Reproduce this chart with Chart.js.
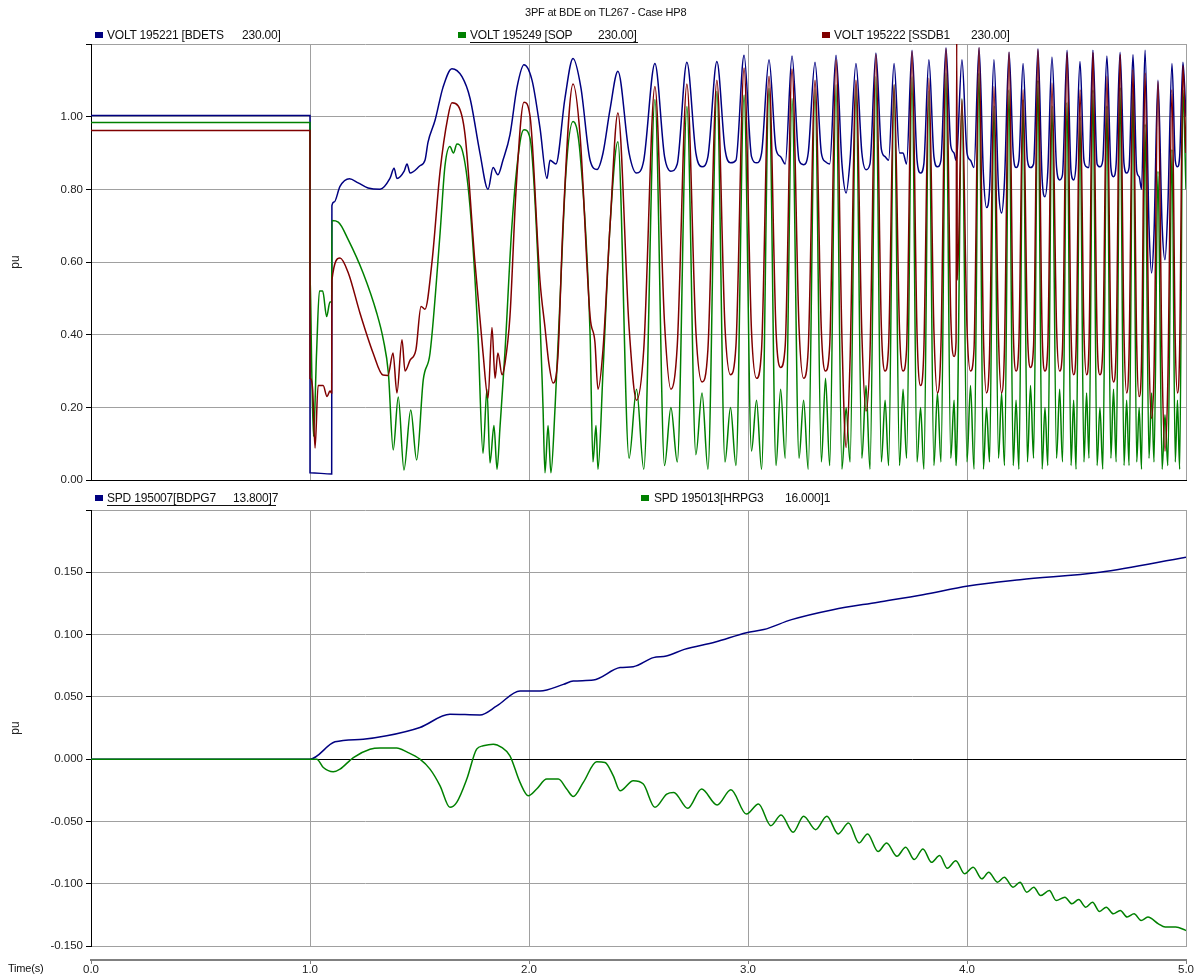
<!DOCTYPE html>
<html>
<head>
<meta charset="utf-8">
<title>3PF at BDE on TL267 - Case HP8</title>
<script src="https://cdn.jsdelivr.net/npm/chart.js@4.4.1/dist/chart.umd.min.js"></script>
<style>
  body { margin: 0; background: #fff; font-family: "Liberation Sans", Arial, sans-serif; }
  #wrap { position: relative; width: 1200px; height: 976px; overflow: hidden; }
  canvas { position: absolute; left: 0; }
  .txt { position: absolute; font-size: 12px; line-height: 14px; color: #111; white-space: pre; letter-spacing: -0.2px; }
  .key { position: absolute; width: 8px; height: 6px; }
  .uline { position: absolute; height: 1px; background: #111; }
</style>
</head>
<body>
<div id="wrap">
  <canvas id="voltChart" width="1200" height="490" style="top:0"></canvas>
  <canvas id="spdChart" width="1200" height="494" style="top:482px"></canvas>

  <div class="txt" style="left:525px;top:5px;font-size:11px">3PF at BDE on TL267 - Case HP8</div>

  <div class="key" style="left:95px;top:32px;background:#000080"></div>
  <div class="txt" style="left:107px;top:28px">VOLT 195221 [BDETS</div>
  <div class="txt" style="left:242px;top:28px">230.00]</div>

  <div class="key" style="left:458px;top:32px;background:#008000"></div>
  <div class="txt" style="left:470px;top:28px">VOLT 195249 [SOP</div>
  <div class="txt" style="left:598px;top:28px">230.00]</div>
  <div class="uline" style="left:470px;top:42px;width:168px"></div>

  <div class="key" style="left:822px;top:32px;background:#800000"></div>
  <div class="txt" style="left:834px;top:28px">VOLT 195222 [SSDB1</div>
  <div class="txt" style="left:971px;top:28px">230.00]</div>

  <div class="key" style="left:95px;top:495px;background:#000080"></div>
  <div class="txt" style="left:107px;top:491px">SPD 195007[BDPG7</div>
  <div class="txt" style="left:233px;top:491px">13.800]7</div>
  <div class="uline" style="left:107px;top:505px;width:169px"></div>

  <div class="key" style="left:641px;top:495px;background:#008000"></div>
  <div class="txt" style="left:654px;top:491px">SPD 195013[HRPG3</div>
  <div class="txt" style="left:785px;top:491px">16.000]1</div>

  <div class="txt" style="left:8px;top:961px;font-size:11px">Time(s)</div>
</div>

<script>
// top panel: bus voltages (pu), time in seconds
const bdetsEarlyT = [0, 1.0, 1.0, 1.099, 1.1, 1.11, 1.137, 1.18, 1.22, 1.265,
  1.32, 1.365, 1.384, 1.397, 1.43, 1.443, 1.457, 1.502, 1.525, 1.539,
  1.571, 1.607, 1.648, 1.694, 1.731, 1.776, 1.813, 1.836, 1.858, 1.881,
  1.913, 1.945, 1.977, 2.014, 2.05, 2.082, 2.096, 2.123, 2.164, 2.201,
  2.237, 2.279, 2.311, 2.338, 2.37];
const bdetsEarlyV = [1.003, 1.003, 0.02, 0.017, 0.755, 0.765, 0.808, 0.829, 0.818, 0.804,
  0.80, 0.83, 0.858, 0.83, 0.85, 0.87, 0.845, 0.865, 0.88, 0.93,
  0.99, 1.08, 1.132, 1.11, 1.05, 0.90, 0.80, 0.86, 0.84, 0.88,
  0.95, 1.08, 1.143, 1.10, 0.97, 0.83, 0.88, 0.87, 1.05, 1.16,
  1.08, 0.88, 0.855, 0.90, 1.02];

const sopEarlyT = [0, 1.0, 1.0, 1.008, 1.016, 1.03, 1.043, 1.058, 1.076, 1.091,
  1.099, 1.1, 1.129, 1.175, 1.243, 1.305, 1.335, 1.358, 1.38, 1.403,
  1.429, 1.46, 1.487, 1.517, 1.548, 1.594, 1.616, 1.639, 1.655, 1.671,
  1.694, 1.731, 1.767, 1.79, 1.808, 1.822, 1.84, 1.854, 1.868, 1.89,
  1.922, 1.959, 1.977, 2.005, 2.041, 2.064, 2.073, 2.087, 2.1, 2.119,
  2.142, 2.169, 2.201, 2.233, 2.279, 2.292, 2.306, 2.315, 2.338, 2.37];
const sopEarlyV = [0.984, 0.984, 0.578, 0.30, 0.12, 0.35, 0.52, 0.52, 0.45, 0.49,
  0.49, 0.714, 0.71, 0.661, 0.569, 0.459, 0.386, 0.294, 0.083, 0.229,
  0.028, 0.193, 0.055, 0.275, 0.349, 0.68, 0.863, 0.918, 0.90, 0.925,
  0.91, 0.75, 0.40, 0.074, 0.25, 0.047, 0.15, 0.03, 0.15, 0.35,
  0.70, 0.93, 0.964, 0.94, 0.60, 0.20, 0.02, 0.15, 0.02, 0.2,
  0.5, 0.85, 0.987, 0.90, 0.40, 0.05, 0.15, 0.03, 0.30, 0.70];

const ssdEarlyT = [0, 1.0, 1.0, 1.012, 1.023, 1.037, 1.06, 1.078, 1.091, 1.099,
  1.1, 1.137, 1.175, 1.228, 1.288, 1.333, 1.356, 1.379, 1.397, 1.42,
  1.434, 1.457, 1.484, 1.507, 1.525, 1.557, 1.594, 1.63, 1.648, 1.676,
  1.708, 1.753, 1.79, 1.813, 1.831, 1.845, 1.858, 1.877, 1.89, 1.913,
  1.941, 1.977, 2.005, 2.05, 2.073, 2.091, 2.11, 2.132, 2.155, 2.201,
  2.233, 2.279, 2.301, 2.315, 2.338, 2.37];
const ssdEarlyV = [0.962, 0.962, 0.28, 0.25, 0.088, 0.26, 0.26, 0.23, 0.245, 0.24,
  0.55, 0.611, 0.57, 0.46, 0.35, 0.289, 0.288, 0.35, 0.24, 0.386,
  0.30, 0.33, 0.36, 0.478, 0.47, 0.60, 0.85, 1.0, 1.038, 1.03,
  0.95, 0.60, 0.35, 0.226, 0.42, 0.28, 0.35, 0.29, 0.32, 0.45,
  0.80, 1.04, 1.0, 0.55, 0.42, 0.32, 0.267, 0.34, 0.70, 1.09,
  0.95, 0.45, 0.38, 0.25, 0.36, 0.70];

// swing cycles from 2.4 s on: peak, then three trough readings per cycle
const cycleT = [
  2.406, 2.457, 2.491, 2.524,
  2.575, 2.619, 2.648, 2.677,
  2.721, 2.762, 2.790, 2.817,
  2.858, 2.895, 2.920, 2.945,
  2.982, 3.016, 3.039, 3.062,
  3.096, 3.128, 3.149, 3.170,
  3.201, 3.233, 3.254, 3.275,
  3.306, 3.335, 3.354, 3.373,
  3.402, 3.429, 3.448, 3.466,
  3.493, 3.520, 3.539, 3.557,
  3.584, 3.609, 3.626, 3.642,
  3.667, 3.692, 3.708, 3.724,
  3.749, 3.772, 3.788, 3.803,
  3.826, 3.849, 3.865, 3.881,
  3.904, 3.926, 3.941, 3.950, 3.953, 3.956,
  3.977, 4.000, 4.016, 4.032,
  4.055, 4.075, 4.089, 4.103,
  4.123, 4.144, 4.158, 4.171,
  4.192, 4.211, 4.224, 4.237,
  4.256, 4.276, 4.290, 4.304,
  4.324, 4.343, 4.356, 4.369,
  4.388, 4.409, 4.423, 4.436,
  4.457, 4.475, 4.487, 4.498,
  4.516, 4.534, 4.546, 4.557,
  4.575, 4.594, 4.607, 4.620,
  4.639, 4.657, 4.669, 4.681,
  4.699, 4.717, 4.729, 4.740,
  4.758, 4.775, 4.786, 4.797,
  4.813, 4.831, 4.843, 4.854,
  4.872, 4.891, 4.904, 4.917,
  4.936, 4.951, 4.961, 4.971,
  4.986, 5.0
];
const bdetsCycleV = [
  1.125, 0.90, 0.845, 0.88,
  1.146, 0.89, 0.85, 0.87,
  1.150, 0.90, 0.862, 0.89,
  1.152, 0.91, 0.873, 0.88,
  1.169, 0.89, 0.873, 0.90,
  1.157, 0.91, 0.89, 0.87,
  1.167, 0.88, 0.868, 0.90,
  1.150, 0.90, 0.876, 0.87,
  1.169, 0.87, 0.79, 0.88,
  1.146, 0.90, 0.854, 0.87,
  1.175, 0.91, 0.89, 0.88,
  1.146, 0.90, 0.90, 0.87,
  1.183, 0.88, 0.845, 0.87,
  1.157, 0.89, 0.862, 0.88,
  1.19, 0.92, 0.90, 0.88, 0.89, 0.91,
  1.157, 0.90, 0.88, 0.86,
  1.19, 0.84, 0.75, 0.80,
  1.157, 0.80, 0.735, 0.82,
  1.177, 0.90, 0.86, 0.88,
  1.146, 0.88, 0.86, 0.87,
  1.187, 0.83, 0.78, 0.85,
  1.164, 0.86, 0.826, 0.84,
  1.183, 0.85, 0.826, 0.87,
  1.152, 0.88, 0.862, 0.86,
  1.183, 0.87, 0.862, 0.88,
  1.167, 0.86, 0.835, 0.87,
  1.177, 0.87, 0.845, 0.86,
  1.171, 0.85, 0.835, 0.80,
  1.183, 0.70, 0.57, 0.68,
  1.10, 0.70, 0.606, 0.75,
  1.146, 0.88, 0.862, 0.89,
  1.15, 1.0
];
const sopCycleV = [
  0.931, 0.06, 0.25, 0.03,
  1.047, 0.04, 0.20, 0.05,
  1.028, 0.07, 0.24, 0.03,
  1.07, 0.05, 0.20, 0.04,
  1.06, 0.08, 0.22, 0.03,
  1.078, 0.04, 0.25, 0.06,
  1.05, 0.06, 0.22, 0.03,
  1.074, 0.05, 0.28, 0.04,
  1.088, 0.03, 0.20, 0.05,
  1.083, 0.06, 0.26, 0.03,
  1.11, 0.05, 0.22, 0.04,
  1.088, 0.04, 0.25, 0.06,
  1.11, 0.05, 0.20, 0.03,
  1.07, 0.04, 0.24, 0.05,
  1.12, 0.06, 0.22, 0.04, 0.08, 0.15,
  1.05, 0.05, 0.26, 0.03,
  1.12, 0.03, 0.20, 0.05,
  1.03, 0.06, 0.24, 0.04,
  1.074, 0.04, 0.22, 0.03,
  1.047, 0.05, 0.26, 0.06,
  1.10, 0.03, 0.20, 0.04,
  1.03, 0.06, 0.25, 0.05,
  1.04, 0.04, 0.22, 0.03,
  1.0, 0.05, 0.24, 0.06,
  1.074, 0.04, 0.20, 0.03,
  1.03, 0.06, 0.25, 0.05,
  1.08, 0.04, 0.22, 0.04,
  1.074, 0.05, 0.20, 0.03,
  0.98, 0.06, 0.24, 0.05,
  0.85, 0.03, 0.18, 0.04,
  0.91, 0.05, 0.22, 0.03,
  1.074, 0.80
];
const ssdCycleV = [
  1.01, 0.42, 0.22, 0.36,
  1.083, 0.43, 0.25, 0.37,
  1.09, 0.41, 0.27, 0.36,
  1.10, 0.42, 0.29, 0.37,
  1.134, 0.41, 0.28, 0.36,
  1.111, 0.41, 0.31, 0.37,
  1.131, 0.42, 0.28, 0.36,
  1.10, 0.41, 0.30, 0.37,
  1.157, 0.39, 0.09, 0.33,
  1.10, 0.40, 0.19, 0.35,
  1.171, 0.42, 0.30, 0.37,
  1.088, 0.41, 0.30, 0.36,
  1.18, 0.40, 0.26, 0.36,
  1.106, 0.41, 0.24, 0.37,
  1.187, 0.45, 0.34, 0.38, 1.22, 0.55,
  1.047, 0.42, 0.30, 0.36,
  1.19, 0.40, 0.24, 0.35,
  1.083, 0.39, 0.24, 0.36,
  1.177, 0.42, 0.30, 0.38,
  1.074, 0.41, 0.31, 0.37,
  1.185, 0.41, 0.30, 0.37,
  1.093, 0.42, 0.30, 0.36,
  1.177, 0.41, 0.29, 0.36,
  1.074, 0.41, 0.29, 0.37,
  1.177, 0.40, 0.29, 0.36,
  1.111, 0.39, 0.27, 0.36,
  1.171, 0.40, 0.24, 0.35,
  1.129, 0.37, 0.23, 0.33,
  1.12, 0.35, 0.17, 0.30,
  1.097, 0.31, 0.08, 0.27,
  1.074, 0.38, 0.24, 0.36,
  1.14, 0.90
];

// bottom panel: machine speed deviation (pu)
const bdpSpdT = [0, 1.0, 1.114, 1.243, 1.35, 1.502, 1.639, 1.776, 1.853, 1.959,
  2.05, 2.157, 2.202, 2.294, 2.416, 2.476, 2.568, 2.627, 2.709, 2.851,
  2.993, 3.072, 3.199, 3.388, 3.594, 3.799, 4.005, 4.242, 4.607, 5.0];
const bdpSpdV = [0, 0, 0.0139, 0.016, 0.0187, 0.0254, 0.036, 0.0355, 0.0427, 0.0547,
  0.0547, 0.060, 0.0627, 0.0635, 0.0735, 0.0742, 0.0815, 0.0828, 0.0881, 0.094,
  0.1015, 0.104, 0.112, 0.120, 0.126, 0.132, 0.139, 0.144, 0.150, 0.162];

const hrpSpdT = [0, 1.0, 1.031, 1.061, 1.106, 1.137, 1.198, 1.274, 1.320, 1.396,
  1.442, 1.502, 1.548, 1.594, 1.639, 1.670, 1.716, 1.761, 1.791, 1.837,
  1.875, 1.913, 1.959, 1.997, 2.035, 2.081, 2.134, 2.172, 2.202, 2.248,
  2.309, 2.347, 2.385, 2.416, 2.476, 2.522, 2.575, 2.629, 2.661, 2.725,
  2.788, 2.859, 2.922, 2.993, 3.048, 3.104, 3.151, 3.206, 3.254, 3.309,
  3.360, 3.412, 3.459, 3.507, 3.546, 3.594, 3.633, 3.680, 3.720, 3.759,
  3.799, 3.838, 3.875, 3.910, 3.949, 3.989, 4.028, 4.068, 4.099, 4.139,
  4.170, 4.210, 4.242, 4.273, 4.305, 4.336, 4.376, 4.407, 4.447, 4.479,
  4.510, 4.542, 4.573, 4.605, 4.636, 4.668, 4.700, 4.731, 4.763, 4.795,
  4.826, 4.874, 4.905, 4.953, 5.0];
const hrpSpdV = [0, 0, 0, -0.0067, -0.0101, -0.008, 0.0013, 0.008, 0.009, 0.009,
  0.0058, 0, -0.008, -0.0214, -0.0387, -0.0347, -0.016, 0.008, 0.0107, 0.012,
  0.0094, 0.0027, -0.0187, -0.0294, -0.024, -0.016, -0.016, -0.024, -0.030, -0.0187,
  -0.0021, -0.0027, -0.0134, -0.0254, -0.0174, -0.020, -0.0387, -0.028, -0.0267, -0.0395,
  -0.024, -0.0368, -0.0246, -0.0441, -0.036, -0.0534, -0.0449, -0.0587, -0.0459, -0.0566,
  -0.0459, -0.060, -0.0513, -0.0673, -0.060, -0.0742, -0.0673, -0.078, -0.0707, -0.0806,
  -0.0721, -0.0828, -0.0774, -0.0876, -0.0815, -0.0921, -0.0868, -0.0961, -0.0908, -0.0988,
  -0.0948, -0.1028, -0.0988, -0.1068, -0.1028, -0.1095, -0.1055, -0.1135, -0.1108, -0.1161,
  -0.1127, -0.1188, -0.1148, -0.1223, -0.1188, -0.1242, -0.1215, -0.1268, -0.1242, -0.1295,
  -0.1268, -0.1322, -0.1348, -0.1348, -0.1375];

const timeTicks = [0, 1, 2, 3, 4, 5];

function toPoints(times, values) {
  return times.map((t, i) => ({ x: t, y: values[i] }));
}

const gridGrey = '#a0a0a0';
const tickFont = { family: 'Liberation Sans', size: 11.5 };

function lineSet(label, points, color, order) {
  return {
    label: label,
    data: points,
    borderColor: color,
    backgroundColor: color,
    borderWidth: 1.5,
    pointRadius: 0,
    fill: false,
    order: order,
    cubicInterpolationMode: 'monotone'
  };
}

const baseOptions = {
  responsive: false,
  animation: false,
  devicePixelRatio: 1,
  plugins: { legend: { display: false }, tooltip: { enabled: false } }
};

new Chart(document.getElementById('voltChart'), {
  type: 'line',
  data: {
    datasets: [
      lineSet('VOLT 195221 [BDETS 230.00]', toPoints(bdetsEarlyT.concat(cycleT), bdetsEarlyV.concat(bdetsCycleV)), '#000080', 3),
      lineSet('VOLT 195249 [SOP 230.00]', toPoints(sopEarlyT.concat(cycleT), sopEarlyV.concat(sopCycleV)), '#008000', 2),
      lineSet('VOLT 195222 [SSDB1 230.00]', toPoints(ssdEarlyT.concat(cycleT), ssdEarlyV.concat(ssdCycleV)), '#800000', 1)
    ]
  },
  options: Object.assign({}, baseOptions, {
    layout: { padding: { left: 0, right: 14, top: 44, bottom: 2 } },
    scales: {
      x: {
        type: 'linear', min: timeTicks[0], max: timeTicks[timeTicks.length - 1],
        ticks: { display: false, stepSize: 1 },
        grid: { color: gridGrey, drawTicks: false },
        border: { color: '#000' },
        afterFit: s => { s.height = 0; }
      },
      y: {
        min: 0, max: 1.2,
        ticks: { stepSize: 0.2, padding: 3, color: '#222', font: tickFont,
          callback: v => v > 1.1 ? '' : v.toFixed(2) },
        grid: { color: gridGrey, tickColor: '#000', tickLength: 5 },
        border: { color: '#000' },
        title: { display: true, text: 'pu', color: '#222', font: { family: 'Liberation Sans', size: 12 }, padding: { top: 8, bottom: 0 } },
        afterFit: s => { s.width = 91; }
      }
    }
  })
});

new Chart(document.getElementById('spdChart'), {
  type: 'line',
  data: {
    datasets: [
      lineSet('SPD 195007[BDPG7 13.800]7', toPoints(bdpSpdT, bdpSpdV), '#000080', 2),
      lineSet('SPD 195013[HRPG3 16.000]1', toPoints(hrpSpdT, hrpSpdV), '#008000', 1)
    ]
  },
  options: Object.assign({}, baseOptions, {
    layout: { padding: { left: 0, right: 14, top: 28, bottom: 0 } },
    scales: {
      x: {
        type: 'linear', min: 0, max: 5, weight: 0,
        ticks: { display: false, stepSize: 1 },
        grid: { color: gridGrey, drawTicks: false },
        border: { color: gridGrey },
        afterFit: s => { s.height = 14; }
      },
      xt: {
        type: 'linear', position: 'bottom', min: 0, max: 5, weight: 1,
        afterBuildTicks: s => { s.ticks = timeTicks.map(v => ({ value: v })); },
        ticks: { padding: -1, color: '#222', font: tickFont, maxRotation: 0,
          callback: v => v.toFixed(1) },
        grid: { drawOnChartArea: false, drawTicks: true, tickLength: 4, color: '#808080' },
        border: { color: '#808080', width: 2 },
        afterFit: s => { s.height = 16; }
      },
      y: {
        min: -0.15, max: 0.2,
        ticks: { stepSize: 0.05, padding: 3, color: '#222', font: tickFont,
          callback: v => v > 0.19 ? '' : v.toFixed(3) },
        grid: {
          color: c => (c.tick && Math.abs(c.tick.value) < 1e-9) ? '#000' : gridGrey,
          tickColor: '#000', tickLength: 5
        },
        border: { color: '#000' },
        title: { display: true, text: 'pu', color: '#222', font: { family: 'Liberation Sans', size: 12 }, padding: { top: 8, bottom: 0 } },
        afterFit: s => { s.width = 91; }
      }
    }
  })
});
</script>
</body>
</html>
